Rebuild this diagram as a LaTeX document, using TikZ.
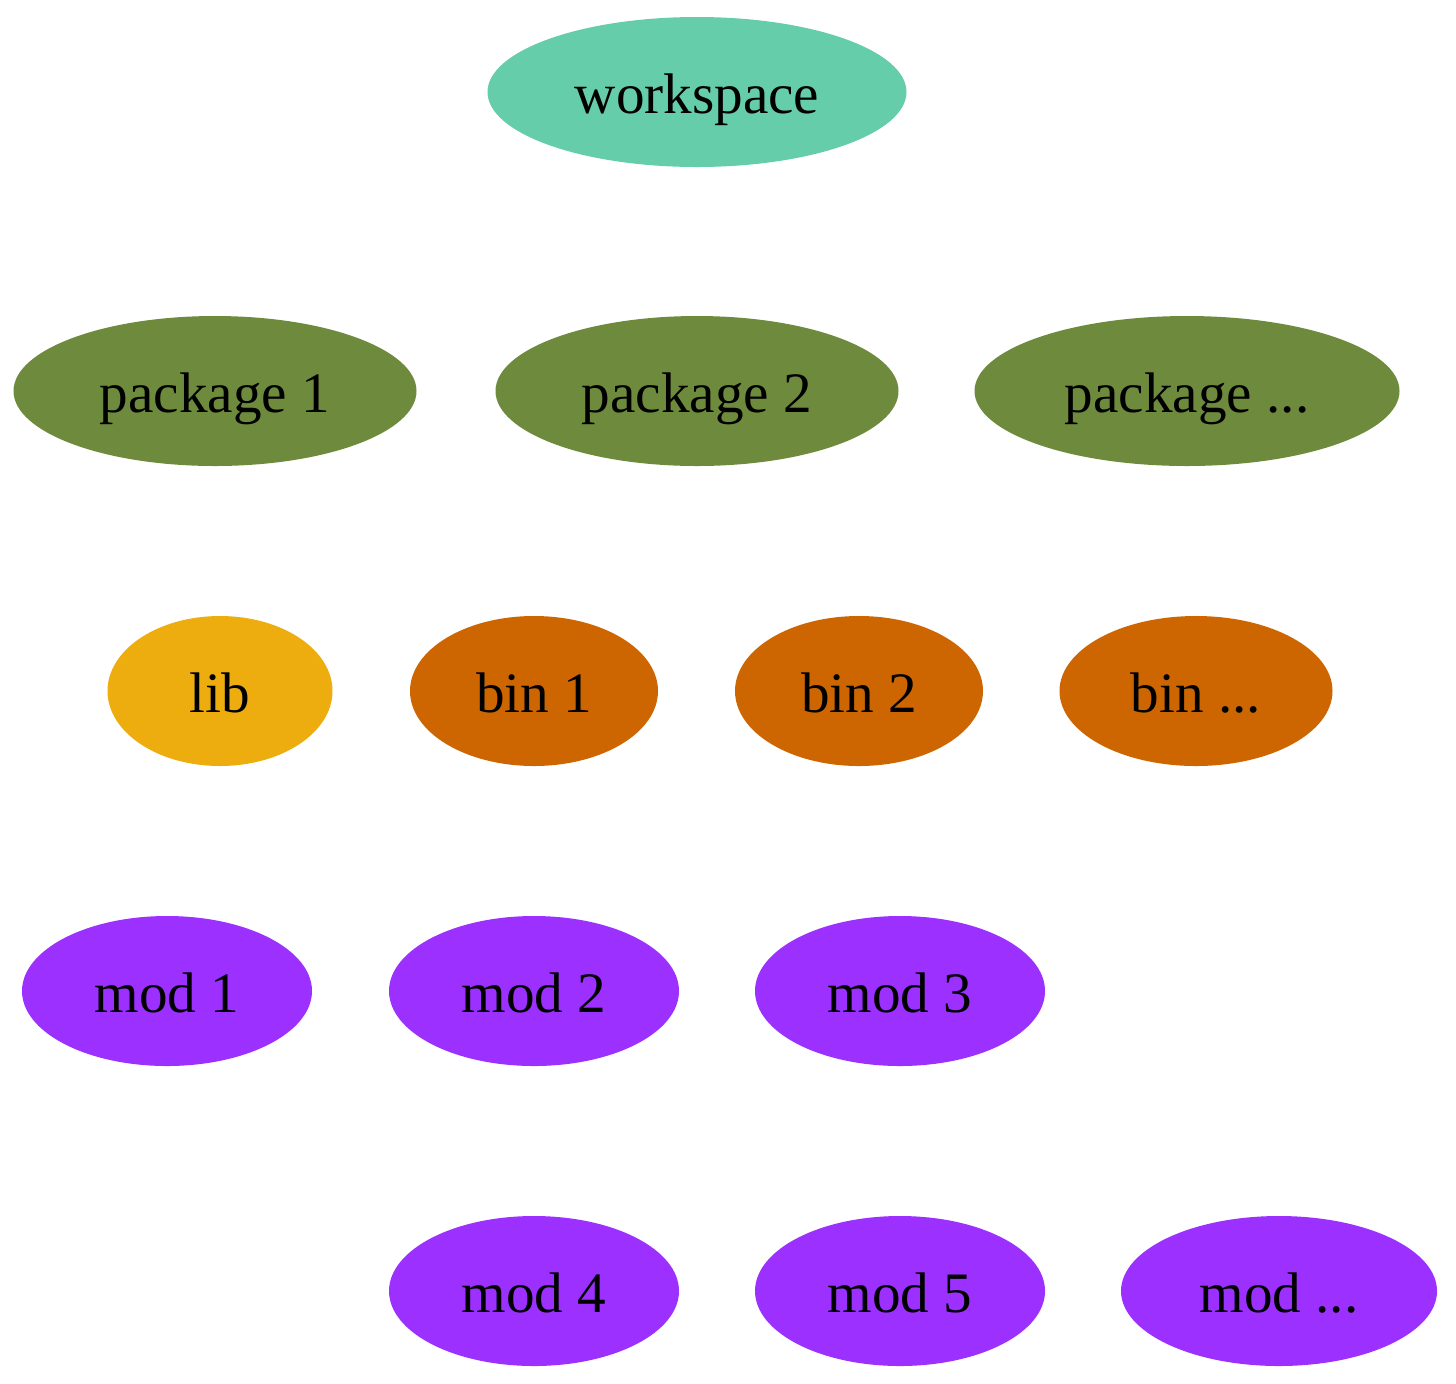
\documentclass[tikz,border=0pt]{standalone}
\usepackage{fontspec}
\setmainfont{Liberation Serif}
\usepackage{tikz}
\usetikzlibrary{shapes.geometric}
\definecolor{wscolor}{HTML}{66CDAA}
\definecolor{pkgcolor}{HTML}{6E8B3D}
\definecolor{libcolor}{HTML}{EEAD0E}
\definecolor{bincolor}{HTML}{CD6600}
\definecolor{modcolor}{HTML}{9B30FF}
\tikzset{
  every node/.append style={font=\fontsize{14.3}{17}\selectfont},
  unit/.style={ellipse, inner sep=0pt, minimum height=37.5pt, text height=10.5pt, text depth=0pt},
  wsnode/.style={unit, fill=wscolor, minimum width=104.75pt},
  pkgnode/.style={unit, fill=pkgcolor, minimum width=100.75pt},
  libnode/.style={unit, fill=libcolor, minimum width=56.25pt},
  binnode/.style={unit, fill=bincolor, minimum width=62pt},
  modnode/.style={unit, fill=modcolor, minimum width=72.5pt},
  link/.style={->, >=stealth, white}
}
\begin{document}
\begin{tikzpicture}[x=0.25pt, y=-0.25pt]
    \useasboundingbox (0,0) rectangle (1456,1383);
    \node[wsnode] (ws) at (697,92) {workspace};
    \node[pkgnode] (pkgA) at (215,391) {package 1};
    \node[pkgnode] (pkgB) at (697,391) {package 2};
    \node[pkgnode, minimum width=106.25pt] (pkgN) at (1187,391) {package ...};
    \node[libnode] (lib) at (220,691) {lib};
    \node[binnode] (binA) at (534,691) {bin 1};
    \node[binnode] (binB) at (859,691) {bin 2};
    \node[binnode, minimum width=68.25pt] (binN) at (1196,691) {bin ...};
    \node[modnode] (modA) at (167,991) {mod 1};
    \node[modnode] (modB) at (534,991) {mod 2};
    \node[modnode] (modC) at (900,991) {mod 3};
    \node[modnode] (modD) at (534,1291) {mod 4};
    \node[modnode] (modE) at (900,1291) {mod 5};
    \node[modnode, minimum width=79pt] (modN) at (1279,1291) {mod ...};
    % white links, as in the original
    \foreach \a/\b in {ws/pkgA, ws/pkgB, ws/pkgN, pkgB/lib, pkgB/binA, pkgB/binB, pkgB/binN,
                       binA/modA, binA/modB, binA/modC, modC/modD, modC/modE, modC/modN}
        \draw[link] (\a) -- (\b);
\end{tikzpicture}
\end{document}
